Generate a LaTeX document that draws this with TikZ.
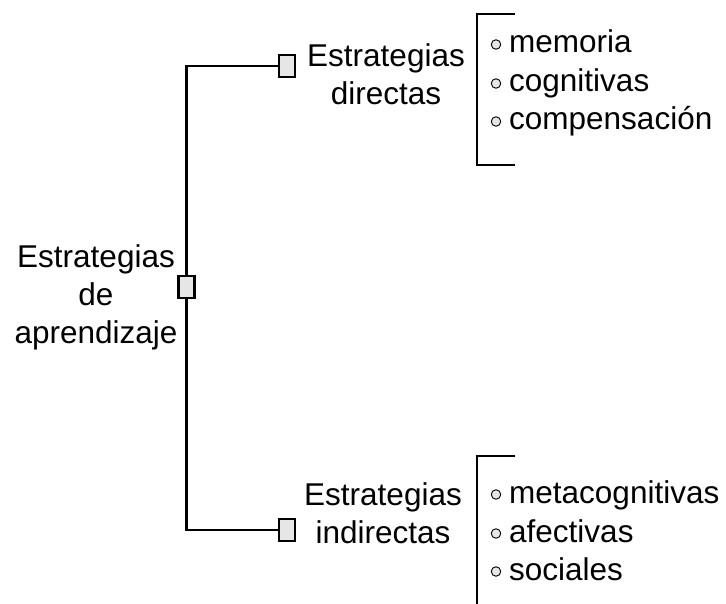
\documentclass[tikz,border=0pt]{standalone}
\usepackage{fontspec}
\setmainfont{Liberation Sans}
\definecolor{boxgray}{HTML}{E6E6E6}
\tikzset{
  txt/.style={font=\fontsize{31.5}{38}\selectfont, inner sep=0},
  sbox/.style={draw, line width=2.4pt, fill=boxgray, inner sep=0, minimum width=16pt, minimum height=22pt},
  dot/.style={circle, draw, line width=0.9pt, fill=boxgray, inner sep=0, minimum size=9.5pt},
  ln/.style={line width=2.2pt}
}
\begin{document}
\begin{tikzpicture}[x=1pt,y=-1pt]
\useasboundingbox (0,0) rectangle (726,604);
\node[txt, align=center] (est0) at (96,297.5){Estrategias\\de\\aprendizaje};
\node[sbox] (box0) at (186.5,287){};
\node[sbox] (box1) at (287,66){};
\node[sbox] (box2) at (287,530){};
\draw[ln](box0.north) |- (box1.west);
\draw[ln](box0.south) |- (box2.west);
\node[txt, align=center] (est1) at (386,74){Estrategias\\directas};
\node[txt, align=center] (est2) at (383,513){Estrategias\\indirectas};
% corchete de arriba
\coordinate (c1) at (515,14);
\coordinate (c2) at (477,14);
\coordinate (c3) at (477,165);
\coordinate (c4) at (515,165);
\draw[ln](c1) -- (c2) -- (c3) -- (c4);
\node[dot] (d1) at (496,44.5){};
\node[txt, anchor=base west] (i1) at (509,53){memoria};
\node[dot] (d2) at (496,83.5){};
\node[txt, anchor=base west] (i2) at (509,92){cognitivas};
\node[dot] (d3) at (496,121.5){};
\node[txt, anchor=base west] (i3) at (509,130){compensación};
% corchete de abajo
\coordinate (c5) at (515,456);
\coordinate (c6) at (477,456);
\coordinate (c7) at (477,604);
\draw[ln](c5) -- (c6) -- (c7);
\node[dot] (d4) at (496,494.5){};
\node[txt, anchor=base west] (i4) at (509,503){metacognitivas};
\node[dot] (d5) at (496,533.5){};
\node[txt, anchor=base west] (i5) at (509,542){afectivas};
\node[dot] (d6) at (496,571.5){};
\node[txt, anchor=base west] (i6) at (509,580){sociales};
\end{tikzpicture}
\end{document}
